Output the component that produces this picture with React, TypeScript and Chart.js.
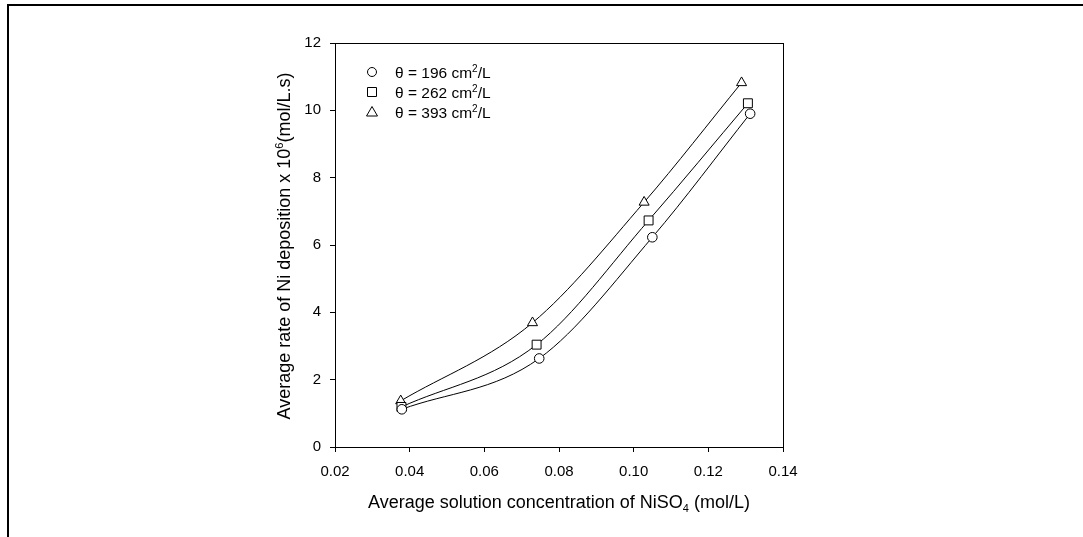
import React, { useEffect, useRef } from 'react';
import { Chart, registerables } from 'chart.js';

Chart.register(...registerables);

// ---- data ----
const seriesNames = ['196', '262', '393'];
const seriesMarkers = ['circle', 'rect', 'triangle'];
const xCircle = [0.0379, 0.0747, 0.105, 0.1312];
const yCircle = [1.12, 2.63, 6.23, 9.9];
const xSquare = [0.0378, 0.074, 0.104, 0.1306];
const ySquare = [1.19, 3.04, 6.73, 10.21];
const xTriangle = [0.0376, 0.0729, 0.1028, 0.1289];
const yTriangle = [1.37, 3.69, 7.27, 10.82];
const xTicks = [0.02, 0.04, 0.06, 0.08, 0.1, 0.12, 0.14];
const yTicks = [0, 2, 4, 6, 8, 10, 12];

const FONT = '"Liberation Sans", Arial, Helvetica, sans-serif';

type Part = { t: string; k?: 'sup' | 'sub' };

function drawRich(ctx: CanvasRenderingContext2D, parts: Part[], x: number, y: number, size: number, align: 'left' | 'center') {
  const small = Math.round(size * 0.62);
  const widths = parts.map((p) => {
    ctx.font = `${p.k ? small : size}px ${FONT}`;
    return ctx.measureText(p.t).width;
  });
  const total = widths.reduce((a, b) => a + b, 0);
  let cx = align === 'center' ? x - total / 2 : x;
  ctx.textAlign = 'left';
  ctx.textBaseline = 'alphabetic';
  parts.forEach((p, i) => {
    ctx.font = `${p.k ? small : size}px ${FONT}`;
    let dy = 0;
    if (p.k === 'sup') dy = -size * 0.38;
    if (p.k === 'sub') dy = size * 0.2;
    ctx.fillText(p.t, cx, y + dy);
    cx += widths[i];
  });
}

const decorPlugin = {
  id: 'decor',
  afterDatasetsDraw(chart: any) {
    const { ctx, chartArea: ca } = chart;
    ctx.save();
    ctx.strokeStyle = '#000';
    ctx.lineWidth = 1;
    ctx.strokeRect(Math.round(ca.left) + 0.5, Math.round(ca.top) + 0.5, Math.round(ca.width), Math.round(ca.height));
    ctx.fillStyle = '#000';

    // x-axis title
    drawRich(ctx, [{ t: 'Average solution concentration of NiSO' }, { t: '4', k: 'sub' }, { t: ' (mol/L)' }], 559, 508, 18, 'center');

    // y-axis title
    ctx.save();
    ctx.translate(290, 246);
    ctx.rotate(-Math.PI / 2);
    drawRich(ctx, [{ t: 'Average rate of Ni deposition x 10' }, { t: '6', k: 'sup' }, { t: '(mol/L.s)' }], 0, 0, 18, 'center');
    ctx.restore();

    // legend
    const rows = [72, 92, 112];
    seriesNames.forEach((name, i) => {
      const y = rows[i];
      const x = 372;
      ctx.beginPath();
      ctx.lineWidth = 1;
      ctx.strokeStyle = '#000';
      ctx.fillStyle = '#fff';
      if (seriesMarkers[i] === 'circle') {
        ctx.arc(x, y, 4.5, 0, Math.PI * 2);
      } else if (seriesMarkers[i] === 'rect') {
        ctx.rect(x - 4.5, y - 4.5, 9, 9);
      } else {
        ctx.moveTo(x, y - 5.5);
        ctx.lineTo(x + 5.5, y + 4);
        ctx.lineTo(x - 5.5, y + 4);
        ctx.closePath();
      }
      ctx.fill();
      ctx.stroke();
      ctx.fillStyle = '#000';
      drawRich(ctx, [{ t: `\u03b8 = ${name} cm` }, { t: '2', k: 'sup' }, { t: '/L' }], 395, y + 5.5, 15.5, 'left');
    });
    ctx.restore();
  },
};

function toPoints(xs: number[], ys: number[]) {
  return xs.map((x, i) => ({ x, y: ys[i] }));
}

export default function App() {
  const ref = useRef<HTMLCanvasElement>(null);

  useEffect(() => {
    document.body.style.margin = '0';
    const canvas = ref.current!;
    const mk = (label: string, data: any[], style: string, r: number) => ({
      label,
      data,
      pointStyle: style,
      pointRadius: r,
      pointBackgroundColor: '#fff',
      pointBorderColor: '#000',
      pointBorderWidth: 1,
      borderColor: '#000',
      borderWidth: 1,
      backgroundColor: '#fff',
      showLine: true,
      cubicInterpolationMode: 'monotone',
      fill: false,
    });
    const chart = new Chart(canvas, {
      type: 'scatter',
      data: {
        datasets: [
          mk('\u03b8 = 196 cm2/L', toPoints(xCircle, yCircle), 'circle', 4.8),
          mk('\u03b8 = 262 cm2/L', toPoints(xSquare, ySquare), 'rect', 6.3),
          mk('\u03b8 = 393 cm2/L', toPoints(xTriangle, yTriangle), 'triangle', 5.8),
        ],
      },
      options: {
        animation: false,
        responsive: true,
        maintainAspectRatio: false,
        layout: { padding: { left: 0, top: 43, right: 300, bottom: 0 } },
        plugins: { legend: { display: false }, tooltip: { enabled: false }, title: { display: false } },
        scales: {
          x: {
            type: 'linear',
            min: xTicks[0],
            max: xTicks[xTicks.length - 1],
            afterFit: (s: any) => { s.height = 90; },
            afterBuildTicks: (s: any) => { s.ticks = xTicks.map((v) => ({ value: v })); },
            ticks: {
              color: '#000',
              font: { family: FONT, size: 15 },
              padding: 11,
              callback: (v: any) => Number(v).toFixed(2),
            },
            grid: { display: true, drawOnChartArea: false, drawTicks: true, tickLength: 5, color: '#000', lineWidth: 1 },
            border: { display: false },
          },
          y: {
            type: 'linear',
            min: yTicks[0],
            max: yTicks[yTicks.length - 1],
            afterFit: (s: any) => { s.width = 335; },
            afterBuildTicks: (s: any) => { s.ticks = yTicks.map((v) => ({ value: v })); },
            ticks: {
              color: '#000',
              font: { family: FONT, size: 15 },
              padding: 9,
              callback: (v: any) => String(v),
            },
            grid: { display: true, drawOnChartArea: false, drawTicks: true, tickLength: 5, color: '#000', lineWidth: 1 },
            border: { display: false },
          },
        },
      },
      plugins: [decorPlugin],
    });
    return () => chart.destroy();
  }, []);

  return (
    <div style={{ position: 'relative', width: 1083, height: 537, background: '#fff', overflow: 'hidden' }}>
      <canvas ref={ref} style={{ position: 'absolute', left: 0, top: 0, width: 1083, height: 537 }} />
      <div
        style={{
          position: 'absolute',
          left: 7,
          top: 4,
          right: 0,
          bottom: 0,
          borderTop: '2px solid #000',
          borderLeft: '2px solid #000',
          pointerEvents: 'none',
        }}
      />
    </div>
  );
}
